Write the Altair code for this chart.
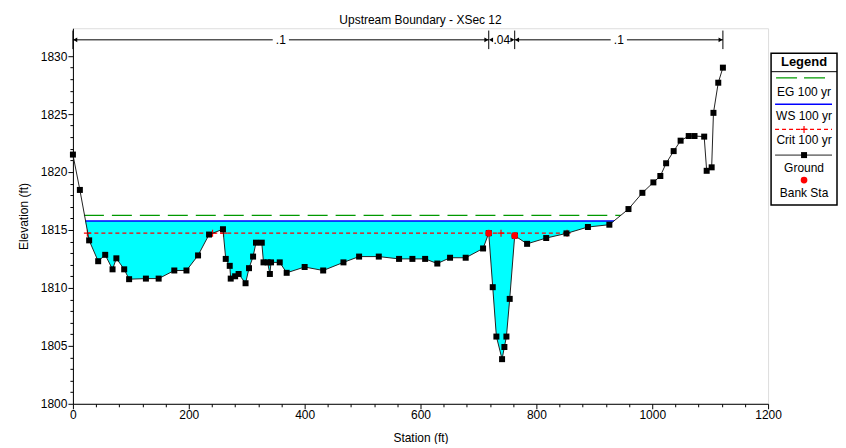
import altair as alt
import pandas as pd

# ---------------- data ----------------
station = [0, 12, 28, 43.6, 55.7, 68.4, 75, 88.5, 97, 126, 148, 175, 196, 216, 235,
           259, 263.8, 270.7, 272.4, 280, 286, 298, 304, 311, 316, 326, 329, 336, 340,
           342, 357, 369, 400, 432, 467, 494, 528, 563, 586, 608, 629, 651, 678, 708,
           717.8, 724.7, 731, 740.8, 744.8, 748.3, 754, 762.6, 784, 817, 852, 889, 926,
           959, 983, 1002, 1014, 1024, 1037, 1049, 1063, 1073, 1089.7, 1094, 1102.6,
           1105.7, 1114, 1122]
elevation = [1821.5, 1818.45, 1814.1, 1812.3, 1812.85, 1811.6, 1812.55, 1811.6, 1810.75,
             1810.8, 1810.8, 1811.5, 1811.5, 1812.8, 1814.6, 1815.06, 1812.5, 1811.9,
             1810.8, 1811.0, 1811.2, 1810.4, 1811.7, 1812.7, 1813.9, 1813.9, 1812.2,
             1812.2, 1811.2, 1812.2, 1812.2, 1811.3, 1811.8, 1811.5, 1812.2, 1812.7,
             1812.7, 1812.5, 1812.5, 1812.5, 1812.1, 1812.6, 1812.6, 1813.4, 1814.72,
             1810.06, 1805.8, 1803.85, 1804.9, 1805.8, 1809.05, 1814.5, 1813.8, 1814.3,
             1814.7, 1815.25, 1815.45, 1816.8, 1818.2, 1819.1, 1819.65, 1820.75, 1821.8,
             1822.7, 1823.1, 1823.1, 1823.05, 1820.1, 1820.4, 1825.1, 1827.7, 1829.0]

ws_elev = 1815.78
eg_elev = 1816.25
crit_elev = 1814.72
ws_ext = [21, 934]
eg_ext = [19, 946]
crit_ext = [25, 853]
crit_marks = [25, 241, 260, 739, 853]
bank_sta = [717.8, 762.6]
bank_elev = [1814.72, 1814.5]
n_breaks = [0, 717.8, 762.6, 1122]
n_labels = [".1", ".04", ".1"]
n_elev = 1831.4

legend_labels = ["EG 100 yr", "WS 100 yr", "Crit 100 yr", "Ground", "Bank Sta"]

FONT = "Liberation Sans"
GREEN = "#009900"
BLUE = "#0000FF"
RED = "#FF0000"
PLUS = "M-1,0H1M0,-1V1"

# ---------------- tables ----------------
ground = pd.DataFrame({"sta": station, "elev": elevation})

water_rows = [(ws_ext[0], ws_elev)] + [(s, e) for s, e in zip(station, elevation)
                                        if ws_ext[0] < s < ws_ext[1]] + [(ws_ext[1], ws_elev)]
water = pd.DataFrame({"sta": [r[0] for r in water_rows],
                      "ground": [r[1] for r in water_rows],
                      "ws": [ws_elev] * len(water_rows)})

ws_df = pd.DataFrame({"sta": ws_ext, "elev": [ws_elev] * 2})
eg_df = pd.DataFrame({"sta": eg_ext, "elev": [eg_elev] * 2})
crit_df = pd.DataFrame({"sta": crit_ext, "elev": [crit_elev] * 2})
crit_pts = pd.DataFrame({"sta": crit_marks, "elev": [crit_elev] * len(crit_marks)})
bank_df = pd.DataFrame({"sta": bank_sta, "elev": bank_elev})

ticks_df = pd.DataFrame({"sta": n_breaks, "lo": [n_elev - 0.8] * 4, "hi": [n_elev + 0.8] * 4})
mid = [(a + b) / 2 for a, b in zip(n_breaks[:-1], n_breaks[1:])]
gap = 14
seg_rows = []
for i, (a, b) in enumerate(zip(n_breaks[:-1], n_breaks[1:])):
    if b - a > 100:
        seg_rows.append((a, mid[i] - gap))
        seg_rows.append((mid[i] + gap, b))
segs = pd.DataFrame({"a": [r[0] for r in seg_rows], "b": [r[1] for r in seg_rows],
                     "elev": [n_elev] * len(seg_rows)})
arr_l = pd.DataFrame({"sta": [a + 4 for a in n_breaks[:-1]], "elev": [n_elev] * 3})
arr_r = pd.DataFrame({"sta": [b - 4 for b in n_breaks[1:]], "elev": [n_elev] * 3})
nlab = pd.DataFrame({"sta": mid, "elev": [n_elev] * 3, "t": n_labels})

# ---------------- scales / axes ----------------
xs = alt.Scale(domain=[0, 1200], nice=False, zero=False)
ys = alt.Scale(domain=[1800, 1832.4], nice=False, zero=False)

x_axis = alt.Axis(values=list(range(0, 1201, 40)), title="Station (ft)",
                  labelExpr="datum.value % 200 === 0 ? datum.label : ''", format="d",
                  tickSize={"condition": {"test": "datum.value % 200 === 0", "value": 5}, "value": 3},
                  grid=False, domainColor="black", tickColor="black", labelColor="black",
                  labelFont=FONT, labelFontSize=12, titleFont=FONT, titleFontSize=12,
                  titleFontWeight="normal", titleColor="black", labelPadding=1,
                  titlePadding=12, labelOverlap=False, labelFlush=False)
y_axis = alt.Axis(values=list(range(1800, 1831)), title="Elevation (ft)",
                  labelExpr="datum.value % 5 === 0 ? datum.label : ''", format="d",
                  tickSize={"condition": {"test": "datum.value % 5 === 0", "value": 5}, "value": 3},
                  grid=False, domainColor="black", tickColor="black", labelColor="black",
                  labelFont=FONT, labelFontSize=12, titleFont=FONT, titleFontSize=12,
                  titleFontWeight="normal", titleColor="black", labelPadding=1,
                  titlePadding=10, labelOverlap=False, labelFlush=False)

X = lambda f="sta": alt.X(f"{f}:Q", scale=xs, axis=x_axis)
Y = lambda f="elev": alt.Y(f"{f}:Q", scale=ys, axis=y_axis)

area = alt.Chart(water).mark_area(color="#00FFFF", opacity=1, line=False).encode(
    x=X(), y=Y("ws"), y2="ground:Q")
eg = alt.Chart(eg_df).mark_line(stroke=GREEN, color=GREEN, strokeWidth=1.3,
                                strokeDash=[20, 8]).encode(x=X(), y=Y())
ws = alt.Chart(ws_df).mark_line(stroke=BLUE, color=BLUE, strokeWidth=1.5).encode(x=X(), y=Y())
crit = alt.Chart(crit_df).mark_line(stroke=RED, color=RED, strokeWidth=1.2,
                                    strokeDash=[4, 3]).encode(x=X(), y=Y())
crit_p = alt.Chart(crit_pts).mark_point(shape=PLUS, stroke=RED, color=RED, size=49,
                                        strokeWidth=1.2, filled=False, opacity=1).encode(x=X(), y=Y())
gline = alt.Chart(ground).mark_line(color="#222222", strokeWidth=1).encode(x=X(), y=Y())
gpts = alt.Chart(ground).mark_point(shape="square", filled=True, color="black", size=36,
                                    opacity=1).encode(x=X(), y=Y())
banks = alt.Chart(bank_df).mark_point(shape="circle", filled=True, color=RED, size=45,
                                      opacity=1).encode(x=X(), y=Y())

nticks = alt.Chart(ticks_df).mark_rule(color="black", strokeWidth=1).encode(x=X(), y=Y("lo"), y2="hi:Q")
nsegs = alt.Chart(segs).mark_rule(color="black", strokeWidth=1).encode(x=X("a"), x2="b:Q", y=Y())
nl = alt.Chart(arr_l).mark_point(shape="triangle-left", filled=True, color="black", size=22,
                                 opacity=1).encode(x=X(), y=Y())
nr = alt.Chart(arr_r).mark_point(shape="triangle-right", filled=True, color="black", size=22,
                                 opacity=1).encode(x=X(), y=Y())
ntext = alt.Chart(nlab).mark_text(font=FONT, fontSize=12, color="black", baseline="middle",
                                  align="center").encode(x=X(), y=Y(), text="t:N")

# ---------------- legend box (decoration, pixel placed) ----------------
one = pd.DataFrame({"k": [0]})
LX0, LX1, LY0, LY1 = 699, 765, 25, 177
LC = (LX0 + LX1) / 2
leg = [alt.Chart(one).mark_rect(fill="white", stroke="black", strokeWidth=1.5).encode(
    x=alt.value(LX0), x2=alt.value(LX1), y=alt.value(LY0), y2=alt.value(LY1))]
leg.append(alt.Chart(one).mark_text(text="Legend", font=FONT, fontSize=13, fontWeight="bold",
                                    color="black", baseline="middle").encode(
    x=alt.value(LC), y=alt.value(34)))
leg.append(alt.Chart(one).mark_rule(color="black", strokeWidth=1).encode(
    x=alt.value(LX0), x2=alt.value(LX1), y=alt.value(43.5)))
leg.append(alt.Chart(one).mark_rule(stroke=GREEN, color=GREEN, strokeWidth=1.3, strokeDash=[21, 7]).encode(
    x=alt.value(LX0 + 5), x2=alt.value(LX1 - 12), y=alt.value(49.7)))
leg.append(alt.Chart(one).mark_rule(stroke=BLUE, color=BLUE, strokeWidth=1.5).encode(
    x=alt.value(LX0 + 4), x2=alt.value(LX1 - 5), y=alt.value(76)))
leg.append(alt.Chart(one).mark_rule(stroke=RED, color=RED, strokeWidth=1.2, strokeDash=[4, 3]).encode(
    x=alt.value(LX0 + 4), x2=alt.value(LX1 - 5), y=alt.value(101.3)))
leg.append(alt.Chart(one).mark_point(shape=PLUS, stroke=RED, color=RED, size=49, strokeWidth=1.2,
                                     filled=False, opacity=1).encode(
    x=alt.value(LC), y=alt.value(101.3)))
leg.append(alt.Chart(one).mark_rule(color="#222222", strokeWidth=1).encode(
    x=alt.value(LX0 + 4), x2=alt.value(LX1 - 5), y=alt.value(127)))
leg.append(alt.Chart(one).mark_point(shape="square", filled=True, color="black", size=36,
                                     opacity=1).encode(x=alt.value(LC), y=alt.value(127)))
leg.append(alt.Chart(one).mark_point(shape="circle", filled=True, color=RED, size=45,
                                     opacity=1).encode(x=alt.value(LC), y=alt.value(152)))
for lab, yy in zip(legend_labels, [63.7, 88, 112, 139.7, 165.3]):
    leg.append(alt.Chart(one).mark_text(text=lab, font=FONT, fontSize=12, color="black",
                                        baseline="middle").encode(x=alt.value(LC), y=alt.value(yy)))

chart = alt.layer(area, eg, ws, crit, crit_p, gline, gpts, banks,
                  nticks, nsegs, nl, nr, ntext, *leg).properties(
    width=696, height=376,
    title=alt.TitleParams("Upstream Boundary - XSec 12", font=FONT, fontSize=12,
                          fontWeight="normal", color="black", anchor="middle", offset=1),
    padding={"left": 9, "top": 6, "right": 0, "bottom": 0},
).configure_view(stroke=None).configure(background="white")

chart.save("out.html", embed_options={"renderer": "svg", "actions": False})
